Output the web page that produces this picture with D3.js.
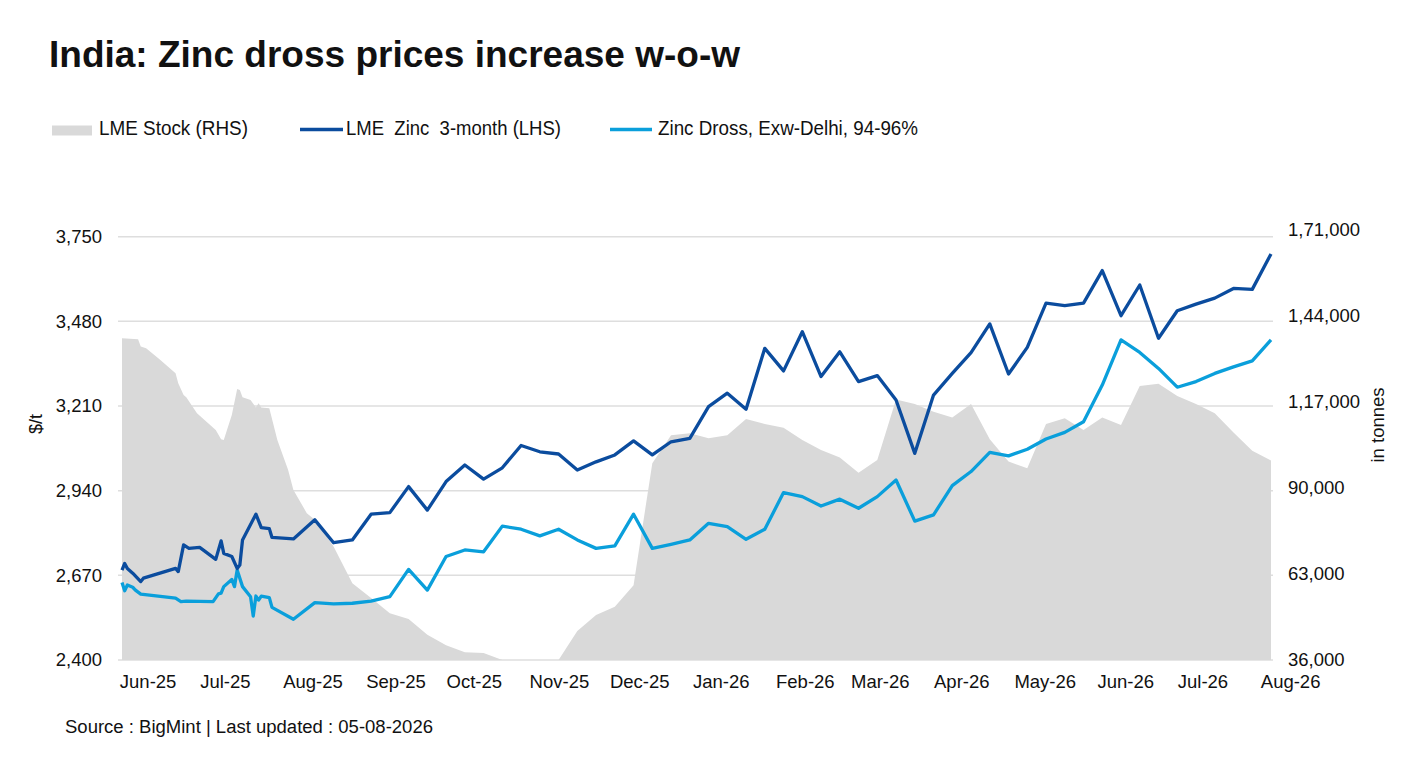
<!DOCTYPE html>
<html>
<head>
<meta charset="utf-8">
<script src="https://cdn.jsdelivr.net/npm/d3@7"></script>
<style>
  body { margin: 0; background: #fff; }
  svg text { font-family: "Liberation Sans", Arial, sans-serif; fill: #111; }
</style>
</head>
<body>
<div id="chart"></div>
<script>
// ---- data ----
// early part (daily-ish quotes), then weekly quotes
const earlyZincDates = ["2025-06-02","2025-06-03","2025-06-04","2025-06-06","2025-06-09","2025-06-10","2025-06-22","2025-06-23","2025-06-25","2025-06-27","2025-07-01","2025-07-07","2025-07-09","2025-07-10","2025-07-13","2025-07-15","2025-07-16","2025-07-17","2025-07-22","2025-07-24","2025-07-27","2025-07-28","2025-08-05"];
const earlyZinc = [2687,2708,2692,2677,2650,2661,2692,2682,2767,2756,2759,2721,2780,2740,2730,2692,2703,2783,2865,2822,2819,2791,2786];

const earlyDrossDates = ["2025-06-02","2025-06-03","2025-06-04","2025-06-06","2025-06-07","2025-06-09","2025-06-22","2025-06-24","2025-06-26","2025-07-06","2025-07-08","2025-07-09","2025-07-10","2025-07-13","2025-07-14","2025-07-15","2025-07-17","2025-07-20","2025-07-21","2025-07-22","2025-07-23","2025-07-24","2025-07-27","2025-07-28","2025-08-05"];
const earlyDross = [2647,2621,2639,2632,2623,2610,2597,2586,2588,2586,2611,2613,2634,2657,2634,2687,2634,2602,2540,2604,2591,2604,2599,2568,2530];

const earlyStockDates = ["2025-06-02","2025-06-08","2025-06-09","2025-06-11","2025-06-16","2025-06-22","2025-06-23","2025-06-25","2025-06-26","2025-06-30","2025-07-07","2025-07-09","2025-07-10","2025-07-13","2025-07-15","2025-07-16","2025-07-17","2025-07-20","2025-07-22","2025-07-23","2025-07-24","2025-07-27","2025-07-30","2025-08-03","2025-08-05","2025-08-10"];
const earlyStock = [137000,136700,134400,133900,130400,126000,122900,119200,118500,113500,108200,105300,105100,112900,121100,120800,118500,117600,115300,116600,115300,115000,105100,95700,89400,82100];

const weekDates = ["2025-08-13","2025-08-20","2025-08-27","2025-09-03","2025-09-10","2025-09-17","2025-09-24","2025-10-01","2025-10-08","2025-10-15","2025-10-22","2025-10-29","2025-11-05","2025-11-12","2025-11-19","2025-11-26","2025-12-03","2025-12-10","2025-12-17","2025-12-24","2025-12-31","2026-01-07","2026-01-14","2026-01-21","2026-01-28","2026-02-04","2026-02-11","2026-02-18","2026-02-25","2026-03-04","2026-03-11","2026-03-18","2026-03-25","2026-04-01","2026-04-08","2026-04-15","2026-04-22","2026-04-29","2026-05-06","2026-05-13","2026-05-20","2026-05-27","2026-06-03","2026-06-10","2026-06-17","2026-06-24","2026-07-01","2026-07-08","2026-07-15","2026-07-22","2026-07-29","2026-08-05"];
const weekZinc = [2847,2774,2783,2865,2870,2953,2878,2969,3022,2977,3013,3084,3064,3057,3006,3032,3054,3099,3054,3096,3107,3208,3251,3200,3394,3322,3447,3304,3383,3288,3307,3229,3059,3245,3314,3380,3472,3312,3397,3538,3530,3538,3642,3498,3596,3426,3514,3535,3554,3585,3582,3695];
const weekDross = [2583,2579,2581,2588,2602,2689,2623,2730,2751,2745,2827,2817,2796,2817,2783,2756,2764,2865,2756,2769,2783,2836,2825,2785,2817,2934,2921,2891,2913,2884,2921,2974,2843,2863,2956,3001,3062,3051,3072,3105,3126,3160,3277,3421,3381,3330,3270,3288,3314,3335,3354,3421];
const weekStock = [80000,71600,60100,55500,50700,48900,43900,40600,38400,38200,36000,36000,36000,36000,45100,50100,52700,59500,97800,106600,107200,105600,106600,111700,110100,108900,105100,101900,99600,94800,98800,117800,116400,113900,112100,116400,105300,98300,96200,110100,111900,108200,112100,109800,122000,122700,118900,116400,113500,107400,101700,98600];

const leftTicks = [2400, 2670, 2940, 3210, 3480, 3750];
const rightTicks = [36000, 63000, 90000, 117000, 144000, 171000];
const monthTicks = ["2025-06-01","2025-07-01","2025-08-01","2025-09-01","2025-10-01","2025-11-01","2025-12-01","2026-01-01","2026-02-01","2026-03-01","2026-04-01","2026-05-01","2026-06-01","2026-07-01","2026-08-01"];
const seriesNames = ["LME Stock (RHS)", "LME  Zinc  3-month (LHS)", "Zinc Dross, Exw-Delhi, 94-96%"];

// ---- setup ----
const W = 1402, H = 767;
const parse = d3.timeParse("%Y-%m-%d");
const darkBlue = "#0b4c9e", lightBlue = "#0a9fdb", stockGrey = "#d9d9d9";

function zipSeries(dates, vals) {
	return dates.map(function(d, i) { return { date: parse(d), value: vals[i] }; });
}
const zinc = zipSeries(earlyZincDates.concat(weekDates), earlyZinc.concat(weekZinc));
const dross = zipSeries(earlyDrossDates.concat(weekDates), earlyDross.concat(weekDross));
const stock = zipSeries(earlyStockDates.concat(weekDates), earlyStock.concat(weekStock));

// Indian digit grouping, e.g. 1,71,000
function indianFormat(n) {
	let s = String(n);
	if (s.length <= 3) return s;
	let last3 = s.slice(-3);
	let rest = s.slice(0, -3).replace(/\B(?=(\d{2})+(?!\d))/g, ",");
	return rest + "," + last3;
}

const svg = d3.select("#chart").append("svg")
	.attr("width", W).attr("height", H);

const x = d3.scaleTime()
	.domain([parse("2025-06-02"), parse("2026-08-05")])
	.range([122, 1271]);
const yL = d3.scaleLinear().domain([2400, 3750]).range([660, 236.7]);
const yR = d3.scaleLinear().domain([36000, 171000]).range([660, 230]);

// gridlines
svg.append("g").selectAll("line")
	.data(leftTicks)
	.join("line")
	.attr("x1", 118).attr("x2", 1273)
	.attr("y1", d => yL(d)).attr("y2", d => yL(d))
	.attr("stroke", "#dedede")
	.attr("stroke-width", 1.5);

// stock area (RHS)
const area = d3.area()
	.x(d => x(d.date))
	.y0(yR(36000))
	.y1(d => yR(Math.max(d.value, 36000)));
svg.append("path")
	.datum(stock)
	.attr("d", area)
	.attr("fill", stockGrey);

// price lines (LHS)
const line = d3.line()
	.x(d => x(d.date))
	.y(d => yL(d.value));
svg.append("path")
	.datum(dross)
	.attr("d", line)
	.attr("fill", "none")
	.attr("stroke", lightBlue)
	.attr("stroke-width", 3.3)
	.attr("stroke-linejoin", "round");
svg.append("path")
	.datum(zinc)
	.attr("d", line)
	.attr("fill", "none")
	.attr("stroke", darkBlue)
	.attr("stroke-width", 3.3)
	.attr("stroke-linejoin", "round");

// axes
const axisFont = "18.5px";
const leftAxis = svg.append("g")
	.attr("transform", "translate(118,0)")
	.call(d3.axisLeft(yL).tickValues(leftTicks).tickSize(0).tickPadding(16).tickFormat(d3.format(",")));
const rightAxis = svg.append("g")
	.attr("transform", "translate(1273,0)")
	.call(d3.axisRight(yR).tickValues(rightTicks).tickSize(0).tickPadding(15).tickFormat(indianFormat));
const bottomAxis = svg.append("g")
	.attr("transform", "translate(0,660)")
	.call(d3.axisBottom(x).tickValues(monthTicks.map(parse)).tickSize(0).tickPadding(15).tickFormat(d3.timeFormat("%b-%y")));

[leftAxis, rightAxis, bottomAxis].forEach(function(a) {
	a.select(".domain").remove();
	a.selectAll("text")
		.style("font-size", axisFont)
		.style("font-family", "Liberation Sans, Arial, sans-serif")
		.attr("fill", "#111");
});
bottomAxis.selectAll("text").attr("text-anchor", "start");

// axis titles
svg.append("text")
	.attr("transform", "translate(36,424) rotate(-90)")
	.attr("text-anchor", "middle")
	.attr("dominant-baseline", "central")
	.style("font-size", "18px")
	.text("$/t");
svg.append("text")
	.attr("transform", "translate(1377,425) rotate(-90)")
	.attr("text-anchor", "middle")
	.attr("dominant-baseline", "central")
	.style("font-size", axisFont)
	.text("in tonnes");

// title
svg.append("text")
	.attr("x", 49).attr("y", 66.5)
	.attr("textLength", 691)
	.attr("lengthAdjust", "spacingAndGlyphs")
	.style("font-size", "37px")
	.style("font-weight", "bold")
	.attr("fill", "#000")
	.text("India: Zinc dross prices increase w-o-w");

// legend
const legend = svg.append("g");
legend.append("rect")
	.attr("x", 52).attr("y", 125.5)
	.attr("width", 40).attr("height", 10)
	.attr("fill", stockGrey);
legend.append("line")
	.attr("x1", 300).attr("x2", 343).attr("y1", 129.5).attr("y2", 129.5)
	.attr("stroke", darkBlue).attr("stroke-width", 3.3);
legend.append("line")
	.attr("x1", 610).attr("x2", 652).attr("y1", 129.5).attr("y2", 129.5)
	.attr("stroke", lightBlue).attr("stroke-width", 3.3);

const legendText = [
	{ x: 99, len: 149 },
	{ x: 346, len: 215 },
	{ x: 658, len: 260 }
];
legend.selectAll("text.leg")
	.data(seriesNames)
	.join("text")
	.attr("class", "leg")
	.attr("x", (d, i) => legendText[i].x)
	.attr("y", 135)
	.attr("textLength", (d, i) => legendText[i].len)
	.attr("lengthAdjust", "spacingAndGlyphs")
	.style("white-space", "pre")
	.style("font-size", "20px")
	.text(d => d);

// source note
svg.append("text")
	.attr("x", 65).attr("y", 733)
	.attr("textLength", 368)
	.attr("lengthAdjust", "spacingAndGlyphs")
	.style("font-size", "18px")
	.text("Source : BigMint | Last updated : 05-08-2026");
</script>
</body>
</html>
